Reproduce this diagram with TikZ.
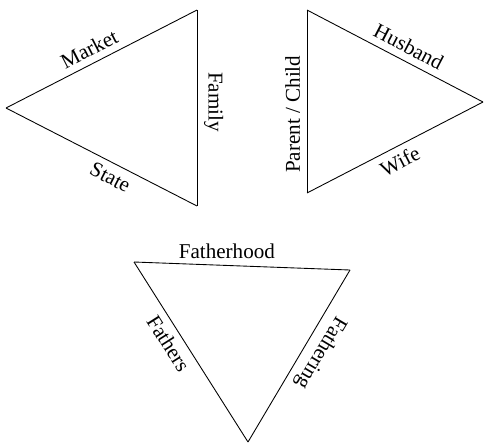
\documentclass[tikz,border=0pt]{standalone}
\usepackage{fontspec}
\setmainfont{Liberation Serif}
\usetikzlibrary{positioning}

\begin{document}
\begin{tikzpicture}[
  side/.style={
    draw=black,
    line width=0.5pt,
    line join=miter
  },
  lbl/.style={
    font=\fontsize{12}{14}\selectfont,
    inner sep=4pt,
    outer sep=0pt
  }]
  \useasboundingbox (0,0) rectangle (9.68,8.88);
  % first triangle
  \coordinate (mktl) at (0.12,6.72);
  \coordinate (mktt) at (3.94,8.68);
  \coordinate (mktb) at (3.94,4.76);
  \draw[side] (mktl) -- node[lbl, sloped, above, pos=0.47] (market) {Market} (mktt);
  \draw[side] (mktt) -- node[lbl, sloped, allow upside down, above, pos=0.47] (family) {Family} (mktb);
  \draw[side] (mktl) -- node[lbl, sloped, below, pos=0.58] (state) {State} (mktb);
  % second triangle
  \coordinate (hustl) at (6.14,8.68);
  \coordinate (husbl) at (6.14,5.02);
  \coordinate (husr) at (9.66,6.84);
  \draw[side] (hustl) -- node[lbl, sloped, above, pos=0.54] (husband) {Husband} (husr);
  \draw[side] (husbl) -- node[lbl, sloped, below, pos=0.49] (wife) {Wife} (husr);
  \draw[side] (husbl) -- node[lbl, sloped, allow upside down, above, pos=0.43] (parent) {Parent / Child} (hustl);
  % third triangle
  \coordinate (fattl) at (2.68,3.64);
  \coordinate (fattr) at (7.00,3.48);
  \coordinate (fatb) at (4.96,0.04);
  \draw[side] (fattl) -- node[lbl, above, pos=0.43] (fatherhood) {Fatherhood} (fattr);
  \draw[side] (fattl) -- node[lbl, sloped, below, pos=0.41] (fathers) {Fathers} (fatb);
  \draw[side] (fattr) -- node[lbl, sloped, allow upside down, above, pos=0.43] (fathering) {Fathering} (fatb);
\end{tikzpicture}
\end{document}
